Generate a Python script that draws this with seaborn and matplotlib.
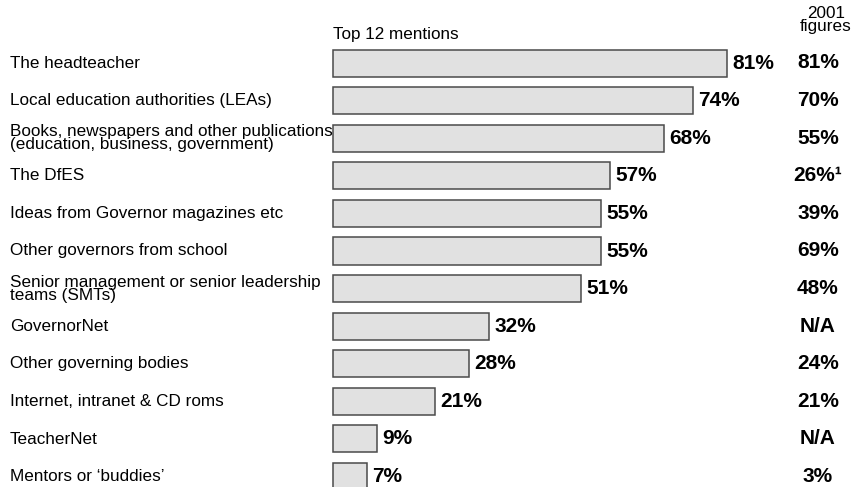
import matplotlib
matplotlib.use('Agg')
import matplotlib.pyplot as plt
import seaborn as sns
import pandas as pd

sns.set_style('white')
plt.rcParams['font.family'] = ['Liberation Sans', 'DejaVu Sans']
plt.rcParams['text.color'] = 'black'

# 데이터
sources = [
    'The headteacher',
    'Local education authorities (LEAs)',
    'Books, newspapers and other publications\n(education, business, government)',
    'The DfES',
    'Ideas from Governor magazines etc',
    'Other governors from school',
    'Senior management or senior leadership\nteams (SMTs)',
    'GovernorNet',
    'Other governing bodies',
    'Internet, intranet & CD roms',
    'TeacherNet',
    'Mentors or \u2018buddies\u2019',
]
mentions = [81, 74, 68, 57, 55, 55, 51, 32, 28, 21, 9, 7]
figures_2001 = ['81%', '70%', '55%', '26%\u00b9', '39%', '69%', '48%', 'N/A', '24%', '21%', 'N/A', '3%']

df = pd.DataFrame({'source': sources, 'pct': mentions})

fig = plt.figure(figsize=(8.54, 4.87), dpi=100)
ax = fig.add_axes([0, 0, 1, 1])

sns.barplot(data=df, x='pct', y='source', color='#e1e1e1', saturation=1,
            edgecolor='#4a4a4a', linewidth=1.1, width=0.72, ax=ax)

ax.set_xlim(-68.46, 107.1)
ax.set_ylim(11.28, -1.68)
ax.axis('off')

# 왼쪽 라벨 / 막대 값 / 2001 값
for i, (src, v, old) in enumerate(zip(sources, mentions, figures_2001)):
    ax.text(10 / 854, 1 - (63 + i * 37.6) / 487, src, transform=ax.transAxes,
            ha='left', va='center', fontsize=12.3, linespacing=0.82)
    ax.text(v + 1.1, i, f'{v}%', ha='left', va='center',
            fontsize=15, fontweight='bold')
    ax.text(818 / 854, 1 - (63 + i * 37.6) / 487, old, transform=ax.transAxes,
            ha='center', va='center', fontsize=15, fontweight='bold')

ax.text(333 / 854, 1 - 35 / 487, 'Top 12 mentions', transform=ax.transAxes,
        ha='left', va='center', fontsize=12.3)
ax.text(826 / 854, 1 - 20 / 487, '2001\nfigures', transform=ax.transAxes,
        ha='center', va='center', fontsize=12.3, linespacing=0.82)

fig.savefig('out.png', dpi=100)
